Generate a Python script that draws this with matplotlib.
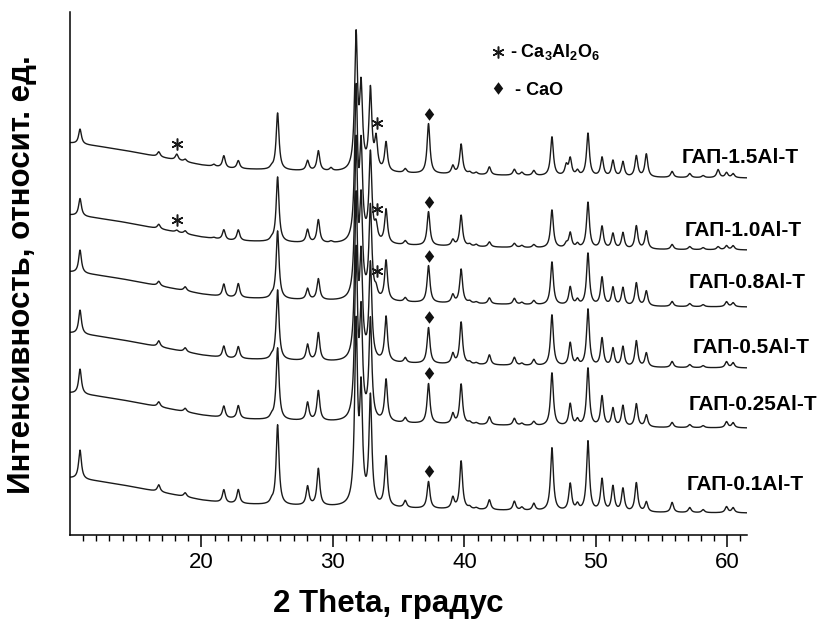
import numpy as np
import matplotlib
matplotlib.use("Agg")
import matplotlib.pyplot as plt
from matplotlib import font_manager
from matplotlib.ticker import FixedLocator

# Sample names, top to bottom
samples = ["ГАП-1.5Al-T", "ГАП-1.0Al-T", "ГАП-0.8Al-T",
           "ГАП-0.5Al-T", "ГАП-0.25Al-T", "ГАП-0.1Al-T"]

# Vertical shift of each pattern (baseline at 10 deg), arb. units
offsets = [392, 320, 263, 202, 142, 57]

# Smooth background: drop below the starting level vs 2 Theta
bg_theta = [10, 12, 14, 16, 18, 20, 22, 25, 30, 37, 45, 52, 61.5]
bg_drop = [0, 3, 7, 12, 17, 22, 25.5, 27, 29, 31, 33, 34.5, 35]

# Reflection positions, 2 Theta (deg)
peak_pos = [10.76, 16.75, 18.12, 18.76, 20.94, 21.70, 22.80, 25.33, 25.79,
            28.07, 28.89, 29.85, 31.76, 32.14, 32.85, 33.28, 34.04, 35.50,
            37.27, 39.12, 39.75, 40.40, 40.90, 41.90, 43.80, 44.37, 45.28,
            46.66, 47.75, 48.05, 48.60, 49.40, 50.47, 51.30, 52.06, 53.08,
            53.84, 55.80, 57.14, 58.16, 59.30, 59.94, 60.44]

# Peak heights for each sample (same order as peak_pos)
h_15 = [15, 5, 6, 2.5, 2, 12, 8, 2, 57, 10, 20, 3, 133, 78, 80, 30, 29, 4,
        50, 8, 30, 2, 2, 8, 6, 3, 5, 39, 10, 17, 5, 43, 19, 16, 15, 21,
        23, 6, 4, 2, 8, 5, 4]
h_10 = [17.6, 4.5, 2, 3, 1, 10, 10.7, 2, 65, 13, 23, 1.5, 150, 90, 88, 15,
        34, 4, 34, 6, 31, 2, 2, 5, 4, 2, 3, 38, 4, 15, 4, 46, 22, 15, 16,
        23, 18, 5, 3, 2, 3, 4, 4]
h_08 = [23, 4.5, 0, 4, 0, 12.7, 14, 2.5, 68, 11, 21, 0, 155, 92, 92, 8,
        40, 4, 37, 8, 34, 2, 1.5, 6, 6, 2, 4, 43, 0, 18, 5, 52, 28, 18, 18,
        23, 15, 5, 3, 2, 0, 5, 4]
h_05 = [24, 6, 0, 4, 0, 11.7, 12, 2.5, 70, 16, 28, 0, 160, 96, 96, 0,
        45, 5, 36, 10, 42, 2, 1.5, 10, 8, 2, 6, 51, 0, 23, 6, 57, 28, 18,
        20, 26, 14, 6, 3, 2, 0, 6, 5]
h_025 = [25, 5, 0, 3.5, 0, 11.7, 13, 3, 72, 18, 30, 0, 165, 100, 100, 0,
         42, 5, 40, 10, 40, 2, 1.5, 8, 7, 2, 4, 53, 0, 22, 6, 58, 30, 18,
         21, 23, 12, 5, 3, 2, 0, 6, 5]
h_01 = [29, 7, 0, 4, 0, 13, 14, 3, 80, 19, 37, 0, 178, 108, 108, 0, 50, 7,
        27, 11, 48, 2, 1.5, 10, 9, 3, 7, 63, 0, 27, 6, 70, 32, 25, 23, 29,
        10, 10, 5, 3, 0, 6, 5]
heights = [h_15, h_10, h_08, h_05, h_025, h_01]

# Phase markers: (sample index, 2 Theta of the reflection)
ca3al2o6_marks = [(0, 18.12), (1, 18.12), (0, 33.28), (1, 33.28), (2, 33.28)]
cao_marks = [(i, 37.27) for i in range(6)]

FWHM = 0.26
theta = np.arange(10.0, 61.5 + 1e-9, 0.01)


def pattern(i):
    y = offsets[i] - np.interp(theta, bg_theta, bg_drop)
    for c, h in zip(peak_pos, heights[i]):
        y = y + h / (1.0 + ((theta - c) / (FWHM / 2)) ** 2)
    return y


names = {f.name for f in font_manager.fontManager.ttflist}
narrow = "Liberation Sans Narrow" if "Liberation Sans Narrow" in names else "Liberation Sans"
plt.rcParams['font.family'] = ['Liberation Sans', 'DejaVu Sans']
plt.rcParams['mathtext.fontset'] = 'custom'
plt.rcParams['mathtext.rm'] = 'Liberation Sans:bold'
plt.rcParams['mathtext.it'] = 'Liberation Sans:bold'
plt.rcParams['mathtext.bf'] = 'Liberation Sans:bold'

fig = plt.figure(figsize=(8.22, 6.21), dpi=100)
ax = fig.add_axes([0.0852, 0.1385, 0.8236, 0.8422])

curves = [pattern(i) for i in range(len(samples))]
for y in curves:
    ax.plot(theta, y, color='#1a1a1a', lw=1.0)

diamond = [(0, 1), (0.75, 0), (0, -1), (-0.75, 0), (0, 1)]
GAP = 10


def top_at(i, x0):
    sel = np.abs(theta - x0) < 0.08
    return curves[i][sel].max()


for i, x0 in ca3al2o6_marks:
    ax.plot(x0 + 0.05, top_at(i, x0) + GAP, marker=(6, 2, 0), ms=8.5,
            mew=1.1, color='#1a1a1a', clip_on=False)
for i, x0 in cao_marks:
    ax.plot(x0 + 0.05, top_at(i, x0) + GAP, marker=diamond, ms=9,
            color='#111111', mec='none', clip_on=False)

# sample labels at the right end of each pattern
label_xy = [(0.904, 0.721), (0.908, 0.583), (0.914, 0.482),
            (0.919, 0.358), (0.913, 0.249), (0.911, 0.096)]
for name, (lx, ly) in zip(samples, label_xy):
    ax.text(lx, ly, name, transform=ax.transAxes, ha='left', va='center',
            fontsize=15, fontweight='bold')

# phase key
ax.plot(0.632, 0.9235, transform=ax.transAxes, marker=(6, 2, 0), ms=8.5,
        mew=1.1, color='#1a1a1a', clip_on=False)
ax.text(0.650, 0.9235, r"- Ca$_3$Al$_2$O$_6$", transform=ax.transAxes,
        ha='left', va='center', fontsize=13, fontweight='bold')
ax.plot(0.632, 0.8547, transform=ax.transAxes, marker=diamond, ms=9,
        color='#111111', mec='none', clip_on=False)
ax.text(0.657, 0.849, "- CaO", transform=ax.transAxes,
        ha='left', va='center', fontsize=13, fontweight='bold')

ax.set_xlim(10, 61.5)
ax.set_ylim(0, 523)
for s in ['top', 'right']:
    ax.spines[s].set_visible(False)
for s in ['left', 'bottom']:
    ax.spines[s].set_linewidth(1.1)
ax.set_yticks([])
ax.xaxis.set_major_locator(FixedLocator([20, 30, 40, 50, 60]))
ax.xaxis.set_minor_locator(FixedLocator([v for v in range(11, 62) if v % 10]))
ax.tick_params(axis='x', which='major', direction='out', length=8.5, width=1.1, pad=4)
ax.tick_params(axis='x', which='minor', direction='out', length=4.5, width=1.0)
for lab in ax.get_xticklabels():
    lab.set_fontfamily(narrow)
    lab.set_fontsize(16)

ax.set_xlabel("2 Theta, градус", fontsize=22.5, fontweight='bold', va='center')
ax.xaxis.set_label_coords(0.47, -0.131)
ax.set_ylabel("Интенсивность, относит. ед.", fontsize=22.5, fontweight='bold', va='center')
ax.yaxis.set_label_coords(-0.071, 0.497)

fig.savefig("out.png", dpi=100)
